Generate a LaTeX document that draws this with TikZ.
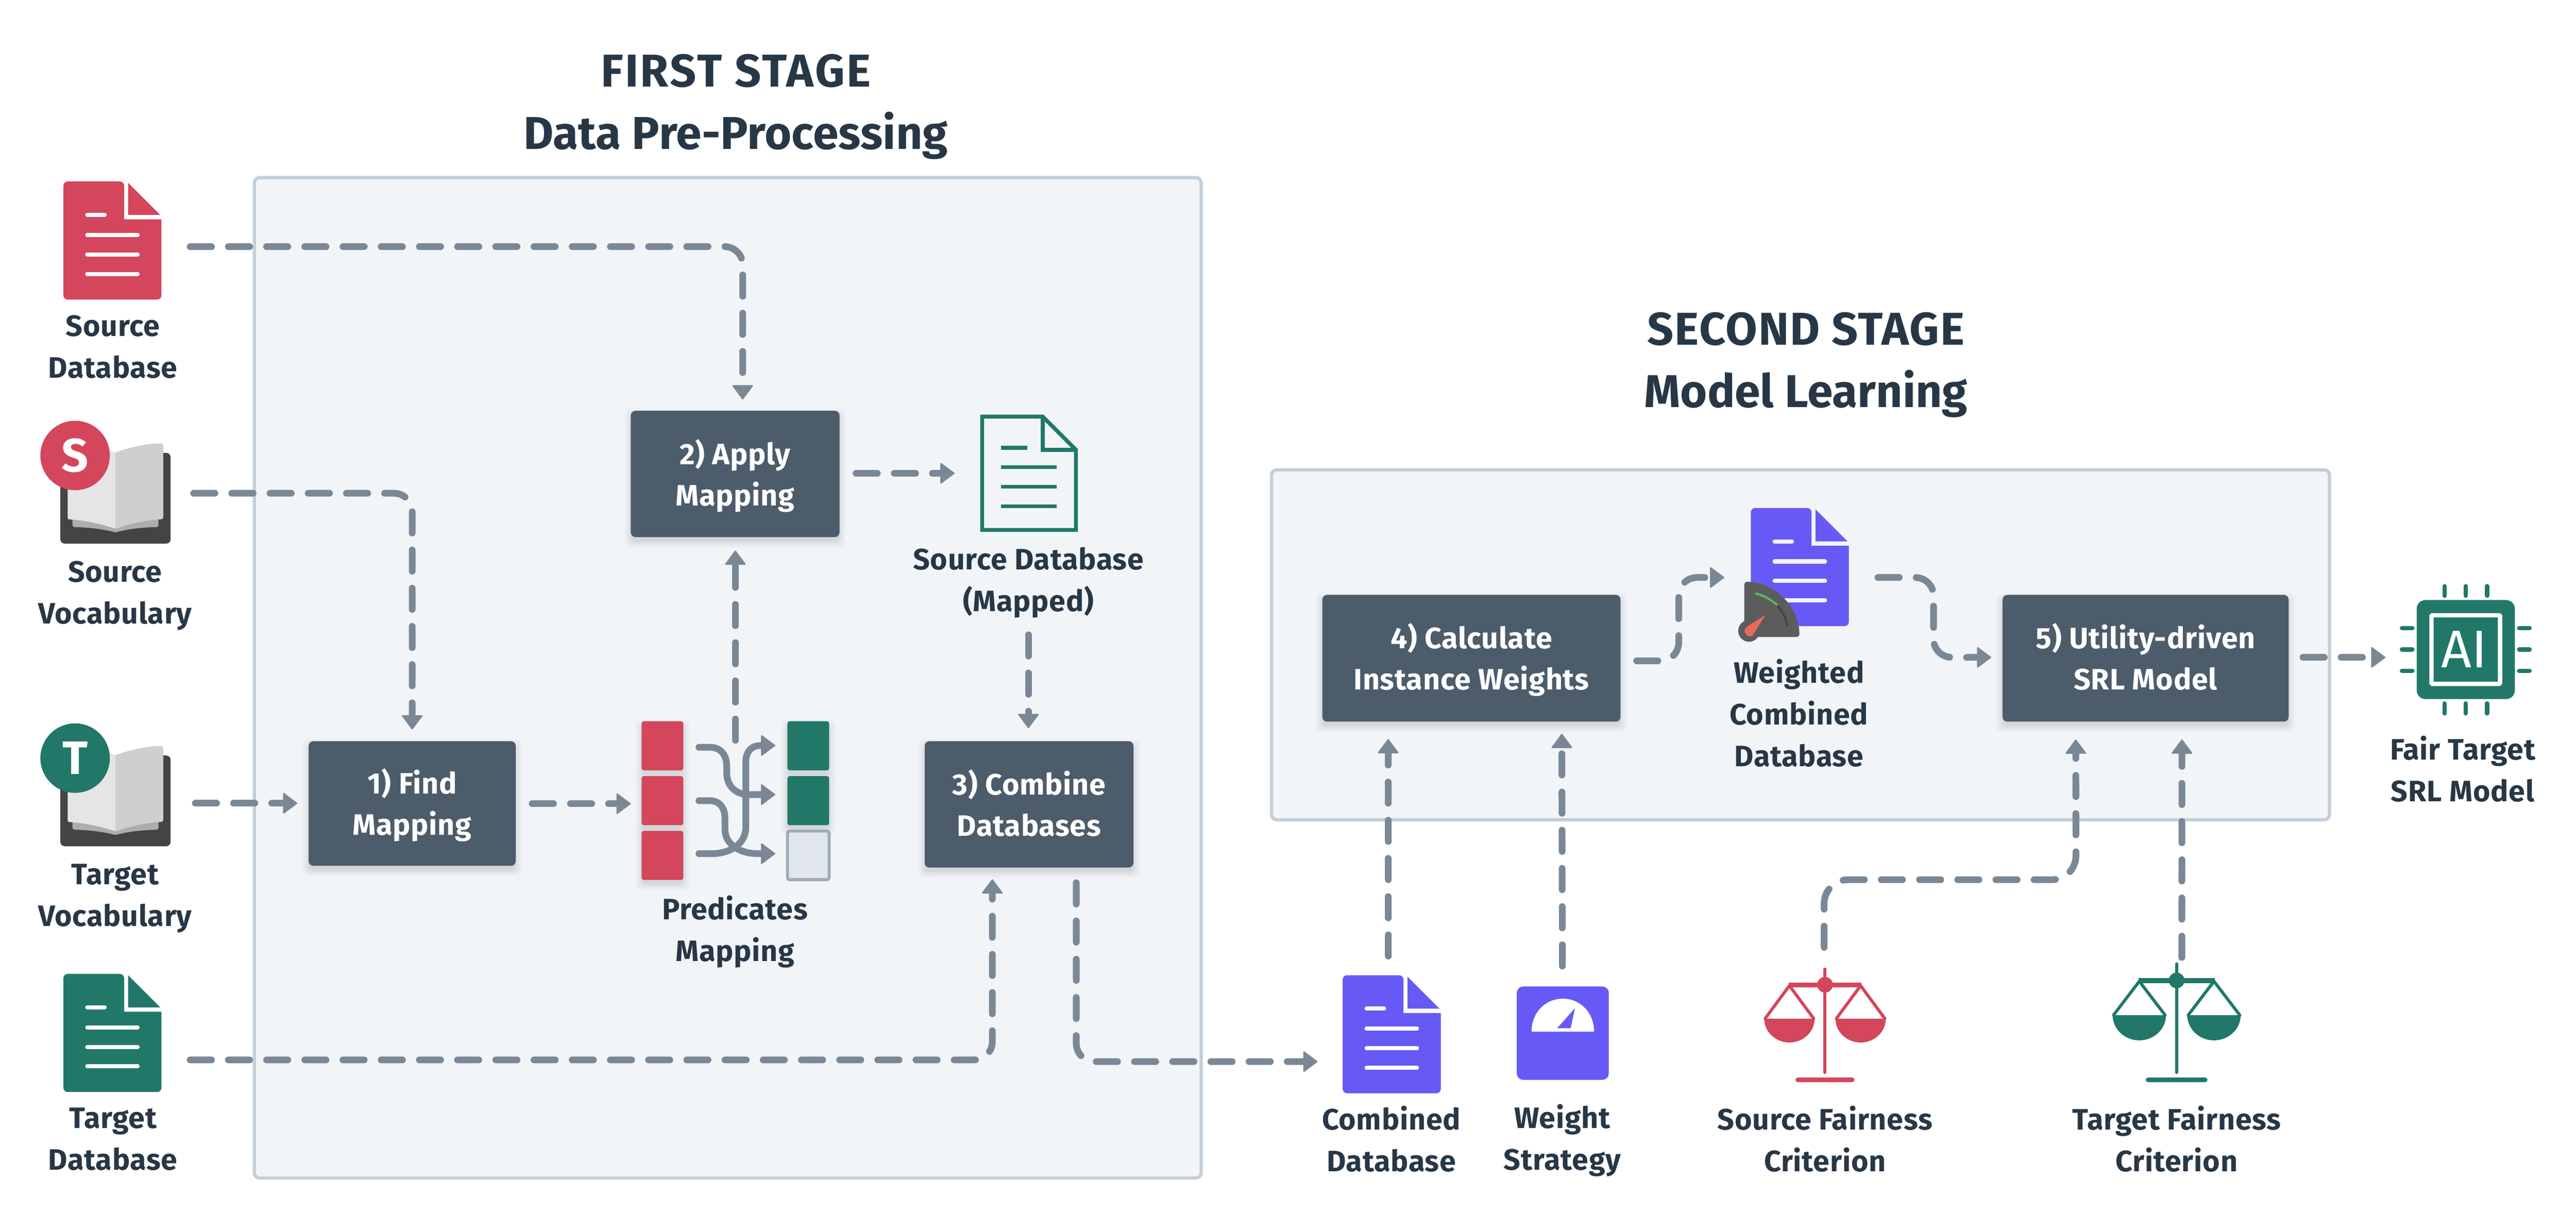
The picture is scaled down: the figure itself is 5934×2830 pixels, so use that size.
\documentclass[tikz,border=0pt]{standalone}
\usepackage{fontspec}
\setmainfont{Fira Sans}
\usetikzlibrary{arrows.meta,calc}
\definecolor{cred}{HTML}{D3465B}
\definecolor{cgreen}{HTML}{217868}
\definecolor{cpurple}{HTML}{6759F5}
\definecolor{cnode}{HTML}{4C5C6B}
\definecolor{ctext}{HTML}{273746}
\definecolor{cflow}{HTML}{7A8896}
\definecolor{cbox}{HTML}{F1F5F8}
\definecolor{cboxline}{HTML}{C2CFDA}
\definecolor{ccover}{HTML}{444444}
\definecolor{cunder}{HTML}{ADADAD}
\definecolor{cleft}{HTML}{E5E5E5}
\definecolor{cright}{HTML}{CFCFCF}
\definecolor{cgauge}{HTML}{5C5C5C}
\definecolor{cgaugearc}{HTML}{454545}
\definecolor{cgaugegreen}{HTML}{5CB867}
\definecolor{cneedle}{HTML}{E8695E}
\definecolor{cempty}{HTML}{E1E6ED}
\definecolor{cemptyline}{HTML}{9DACBA}
\tikzset{
  stagebox/.style={draw=cboxline,line width=7.5pt,fill=cbox,rounded corners=12pt},
  procbox/.style={fill=cnode,rounded corners=11pt,inner sep=0pt,outer sep=0pt,text=white,align=center,
    font=\fontsize{68}{95}\selectfont\bfseries\addfontfeatures{LetterSpace=1.5}},
  lbl/.style={anchor=north,inner sep=0pt,outer sep=0pt,text=ctext,align=center,
    font=\fontsize{68}{96}\selectfont\bfseries\addfontfeatures{LetterSpace=1.5}},
  ttl/.style={anchor=north,inner sep=0pt,outer sep=0pt,text=ctext,align=center,
    font=\fontsize{106}{144}\selectfont\bfseries},
  flow/.style={draw=cflow,line width=15.5pt,line cap=round,rounded corners=42pt,dash pattern=on 49pt off 39pt,
    -{Triangle[length=34pt,width=50pt,line width=3pt,round]}},
  mapline/.style={draw=cflow,line width=15.5pt,line cap=round,line join=round,
    -{Triangle[length=34pt,width=50pt,line width=3pt,round]}},
  cell/.style={rounded corners=5pt,minimum width=96pt,minimum height=113pt,inner sep=0pt,outer sep=0pt},
}
\newcommand\softshadow[4]{%
  \foreach \g/\o in {16/.012,12/.018,8/.025,4/.03,0/.035}
    \fill[black,opacity=\o,rounded corners=12pt] ({#1-\g},{#2+10-\g}) rectangle ({#3+\g},{#4+10+\g});}
\newcommand\procnode[6]{% name,x1,y1,x2,y2,(lines)
  \softshadow{#2}{#3}{#4}{#5}
  \node[procbox,minimum width={#4-#2},minimum height={#5-#3}] (#1) at ({(#2+#4)/2},{(#3+#5)/2}) {#6};}
\newcommand\pl[2]{\rule{0pt}{78pt}#1\\#2\rule[-27pt]{0pt}{27pt}}
\newcommand\lbltext[4]{\node[lbl] (#1) at (#2,{#3+4-60}) {\rule{0pt}{60pt}#4};}
\newcommand\docicon[4]{% x,y,colour,bg
  \begin{scope}[shift={(#1,#2)}]
  \fill[#3,rounded corners=10pt] (0,0) -- (140,0) [sharp corners] -- (140,87) -- (226,87) [rounded corners=10pt] -- (226,272) -- (0,272) -- cycle;
  \fill[#3] (149,3) -- (223,77) -- (149,77) -- cycle;
  \draw[#4,line width=9.5pt,line cap=round] (55,77) -- (95,77) (55,123) -- (171,123) (55,168) -- (171,168) (55,213) -- (171,213);
  \end{scope}}
\newcommand\bookicon[4]{% dy, cx of circle, colour, letter
  \begin{scope}[shift={(0,#1)}]
  \fill[ccover,rounded corners=10pt] (139,1043) rectangle (393,1252);
  \fill[cunder] (167,1185) -- (167,1209) .. controls (167,1213) and (170,1214) .. (175,1214) .. controls (210,1215) and (240,1219) .. (266,1226) .. controls (292,1219) and (322,1215) .. (357,1214) .. controls (362,1214) and (365,1213) .. (365,1209) -- (365,1185) -- cycle;
  \fill[cleft,rounded corners=3pt] (266,1042) .. controls (230,1030) and (190,1021) .. (156,1021) -- (156,1196) .. controls (190,1198) and (230,1205) .. (266,1218) -- cycle;
  \fill[cright] (266,1042) .. controls (300,1030) and (340,1021) .. (370,1021) .. controls (374,1021) and (376,1023) .. (376,1027) -- (376,1190) .. controls (376,1194) and (374,1196) .. (370,1196) .. controls (340,1198) and (300,1205) .. (266,1218) -- cycle;
  \node[circle,fill=#3,minimum size=160pt,inner sep=0pt,text=white,font=\fontsize{108}{108}\selectfont\bfseries] (book#4) at (#2,1049) {#4};
  \end{scope}}
\newcommand\scaleicon[9]{% cx,stemtop,pivoty,panoff,panw,pantop,panbot,beamhalf,basehalf
  \pgfmathsetmacro\cxa{#1-#4}\pgfmathsetmacro\cxb{#1+#4}\pgfmathsetmacro\hw{#5/2}
  \pgfmathsetmacro\ph{#7-#6}
  \draw[line width=7pt,line cap=round] (#1,#2) -- (#1,2470);
  \fill ({#1},#3) circle (18pt);
  \fill ({#1-#8},{#3-5}) rectangle ({#1+#8},{#3+6});
  \draw[line width=7pt,line join=round,line cap=round] ({\cxa-\hw+2},#6) -- ({\cxa},{#3+2}) -- ({\cxa+\hw-2},#6);
  \draw[line width=7pt,line join=round,line cap=round] ({\cxb-\hw+2},#6) -- ({\cxb},{#3+2}) -- ({\cxb+\hw-2},#6);
  \foreach \c in {\cxa,\cxb}{
    \fill ({\c-\hw},#6) .. controls ({\c-\hw},{#6+.55*\ph}) and ({\c-.55*\hw},#7) .. ({\c},#7) .. controls ({\c+.55*\hw},#7) and ({\c+\hw},{#6+.55*\ph}) .. ({\c+\hw},#6) -- cycle;}
  \draw[line width=10pt,line cap=round] ({#1-#9+5},2487) -- ({#1+#9-5},2487);}
\begin{document}
\begin{tikzpicture}[x=1pt,y=-1pt]
\useasboundingbox (0,0) rectangle (5934,2830);
\fill[white] (0,0) rectangle (5934,2830);
% stage boxes
\node[stagebox,minimum width=2181pt,minimum height=2304pt,inner sep=0pt,outer sep=0pt] (stageone) at (1676.5,1561) {};
\node[stagebox,minimum width=2437pt,minimum height=806pt,inner sep=0pt,outer sep=0pt] (stagetwo) at (4147.5,1485) {};
% titles
\node[ttl] (titleone) at (1695,96) {\rule{0pt}{104pt}{\addfontfeatures{LetterSpace=4}FIRST STAGE}\\{\addfontfeatures{LetterSpace=0.3}Data Pre-Processing}};
\node[ttl] (titletwo) at (4160,690) {\rule{0pt}{104pt}{\addfontfeatures{LetterSpace=2.2}SECOND STAGE}\\Model Learning};
% process boxes
\procnode{find}{711}{1707}{1188}{1994}{\pl{1) Find}{Mapping}}
\procnode{apply}{1453}{946}{1934}{1237}{\pl{2) Apply}{Mapping}}
\procnode{combine}{2130}{1707}{2611}{1998}{\pl{3) Combine}{Databases}}
\procnode{calc}{3046}{1370}{3733}{1662}{\pl{4) Calculate}{Instance Weights}}
\procnode{util}{4613}{1370}{5272}{1662}{\pl{5) Utility-driven}{SRL Model}}
% documents
\docicon{146}{418}{cred}{white}
\docicon{146}{2243}{cgreen}{white}
\docicon{3093}{2246}{cpurple}{white}
\docicon{4033}{1170}{cpurple}{cbox}
% outlined mapped document
\draw[cgreen,line width=9pt,line join=miter] (2262.5,959.5) -- (2402,959.5) -- (2478.5,1036) -- (2478.5,1220.5) -- (2262.5,1220.5) -- cycle;
\draw[cgreen,line width=9pt] (2402,959.5) -- (2402,1036) -- (2478.5,1036);
\draw[cgreen,line width=9pt] (2306,1031) -- (2366,1031) (2306,1076) -- (2434,1076) (2306,1121) -- (2434,1121) (2306,1166) -- (2434,1166);
% books
\bookicon{0}{173}{cred}{S}
\bookicon{697}{173}{cgreen}{T}
% gauge on weighted db
\fill[cgauge,rounded corners=6pt] (4018,1467) -- (4018,1340) .. controls (4088,1340) and (4145,1397) .. (4145,1467) -- cycle;
\fill[cgauge] (4029,1453) circle (25pt);
\draw[cgaugearc,line width=5pt,line cap=round] (4093,1393) .. controls (4105,1406) and (4113,1422) .. (4117,1440);
\draw[cgaugegreen,line width=5pt,line cap=round] (4045,1367) .. controls (4062,1371) and (4080,1381) .. (4093,1393);
\fill[cneedle] (4067,1416) -- (4022,1445) .. controls (4015,1452) and (4020,1468) .. (4036,1465) -- cycle;
% weight strategy
\fill[cpurple,rounded corners=15pt] (3494,2272) rectangle (3706,2487);
\fill[white] (3528,2376) .. controls (3528,2332) and (3560,2300) .. (3600,2300) .. controls (3640,2300) and (3672,2332) .. (3672,2376) -- cycle;
\fill[cpurple] (3628,2322) -- (3587,2368) -- (3618,2368) -- cycle;
% scales
\begin{scope}[cred]\scaleicon{4204}{2232}{2268}{82}{116}{2346}{2401}{84}{68}\end{scope}
\begin{scope}[cgreen]\scaleicon{5014}{2220}{2258}{86}{123}{2338}{2396}{88}{71}\end{scope}
% chip
\fill[cgreen,rounded corners=20pt] (5567,1382) rectangle (5793,1610);
\draw[white,line width=10pt,rounded corners=2pt] (5601,1417) rectangle (5759,1575);
\node[inner sep=0pt,text=white,font=\fontsize{122}{122}\selectfont] (chiptext) at (5677,1495) {AI};
\draw[cgreen,line width=10pt,line cap=round]
  (5631,1350) -- (5631,1372) (5680,1350) -- (5680,1372) (5729,1350) -- (5729,1372)
  (5631,1620) -- (5631,1643) (5680,1620) -- (5680,1643) (5729,1620) -- (5729,1643)
  (5533,1447) -- (5557,1447) (5533,1496) -- (5557,1496) (5533,1545) -- (5557,1545)
  (5803,1447) -- (5827,1447) (5803,1496) -- (5827,1496) (5803,1545) -- (5827,1545);
% predicate cells
\foreach \n/\y/\c in {r1/1717.5/cred,r2/1844/cred,r3/1970/cred}{
  \softshadow{1478}{\y-56}{1574}{\y+56}
  \node[cell,fill=\c] (\n) at (1526,\y) {};}
\foreach \n/\y/\c in {g1/1717.5/cgreen,g2/1844/cgreen}{
  \softshadow{1814}{\y-56}{1910}{\y+56}
  \node[cell,fill=\c] (\n) at (1862,\y) {};}
\node[cell,fill=cempty,draw=cemptyline,line width=7pt,minimum width=96pt,minimum height=112pt] (g3) at (1862,1970) {};
% labels
\lbltext{lsdb}{260}{770}{Source\\Database}
\lbltext{lsvoc}{265}{1337}{Source\\Vocabulary}
\lbltext{ltvoc}{265}{2033}{Target\\Vocabulary}
\lbltext{ltdb}{260}{2594}{Target\\Database}
\lbltext{lpred}{1693}{2114}{Predicates\\Mapping}
\lbltext{lmap}{2369}{1308}{Source Database\\(Mapped)}
\lbltext{lcomb}{3205}{2598}{Combined\\Database}
\lbltext{lws}{3599}{2594}{Weight\\Strategy}
\lbltext{lwcd}{4144}{1569}{Weighted\\Combined\\Database}
\lbltext{lsfc}{4204}{2598}{Source Fairness\\Criterion}
\lbltext{ltfc}{5014}{2598}{Target Fairness\\Criterion}
\lbltext{lfair}{5673}{1746}{Fair Target\\SRL Model}
% free ends
\coordinate (sdbout) at (438,568);
\coordinate (svout) at (446,1136);
\coordinate (tvout) at (450,1850);
\coordinate (tdbout) at (438,2441);
\coordinate (predout) at (1694,1705);
\coordinate (predin) at (1453,1851);
\coordinate (mapin) at (2199,1090);
\coordinate (mapout) at (2369,1462);
\coordinate (combin) at (3035,2445);
\coordinate (combout) at (3198,2202);
\coordinate (wsout) at (3599,2225);
\coordinate (wdbin) at (3972,1330);
\coordinate (wdbout) at (4326,1330);
\coordinate (sfout) at (4202,2182);
\coordinate (tfout) at (5026,2205);
\coordinate (chipin) at (5495,1514);
\coordinate (aA) at ($(apply.north west)!.536!(apply.north east)$);
\coordinate (cA) at ($(combine.south west)!.324!(combine.south east)$);
\coordinate (cB) at ($(combine.south west)!.726!(combine.south east)$);
\coordinate (cC) at ($(calc.south west)!.221!(calc.south east)$);
\coordinate (cD) at ($(calc.south west)!.803!(calc.south east)$);
\coordinate (uA) at ($(util.south west)!.256!(util.south east)$);
\coordinate (uB) at ($(util.south west)!.627!(util.south east)$);
% connectors
\draw[flow,shorten >=26pt] (sdbout) -| (aA);
\draw[flow,shorten >=27pt] (svout) -| (find.north);
\draw[flow,shorten >=26pt] (tvout) -- (tvout -| find.west);
\draw[flow,shorten <=38pt] (find.east |- predin) -- (predin);
\draw[flow,shorten >=31pt] (predout) -- (predout |- apply.south);
\draw[flow,shorten <=38pt] (apply.east |- mapin) -- (mapin);
\draw[flow,shorten >=30pt] (mapout) -- (mapout |- combine.north);
\draw[flow,shorten >=27pt] (tdbout) -| (cA);
\draw[flow,shorten <=35pt] (cB) |- (combin);
\draw[flow,shorten >=40pt] (combout) -- (cC);
\draw[flow,shorten >=28pt] (wsout) -- (cD);
\draw[flow,shorten <=37pt] ($(calc.east)+(0,6)$) -- (3867,1522) -- (3867,1330) -- (wdbin);
\draw[flow,shorten >=26pt] (wdbout) -- (4454,1330) -- (4454,1514) -- ($(util.west)+(0,-2)$);
\draw[flow,shorten <=33pt] ($(util.east)+(0,-2)$) -- (chipin);
\draw[flow,shorten >=41pt,rounded corners=55pt] (sfout) |- (4782,2026) -- (uA);
\draw[flow,shorten >=41pt] (tfout) -- (uB);
% mapping curves
\coordinate (m1s) at (1610,1721);\coordinate (m2s) at (1610,1844);\coordinate (m3s) at (1610,1966);
\coordinate (m1e) at (1786,1830);\coordinate (m2e) at (1786,1966);\coordinate (m3e) at (1786,1717);
\draw[mapline] (m1s) -- (1635,1721) .. controls (1660,1721) and (1674,1738) .. (1674,1765) -- (1674,1780) .. controls (1674,1810) and (1695,1830) .. (1725,1830) -- (m1e);
\draw[mapline] (m2s) -- (1635,1844) .. controls (1657,1844) and (1670,1860) .. (1670,1885) -- (1670,1910) .. controls (1670,1945) and (1705,1966) .. (1745,1966) -- (m2e);
\draw[mapline] (m3s) -- (1640,1966) .. controls (1680,1966) and (1718,1945) .. (1718,1905) -- (1718,1755) .. controls (1718,1732) and (1730,1717) .. (1752,1717) -- (m3e);
\end{tikzpicture}
\end{document}
